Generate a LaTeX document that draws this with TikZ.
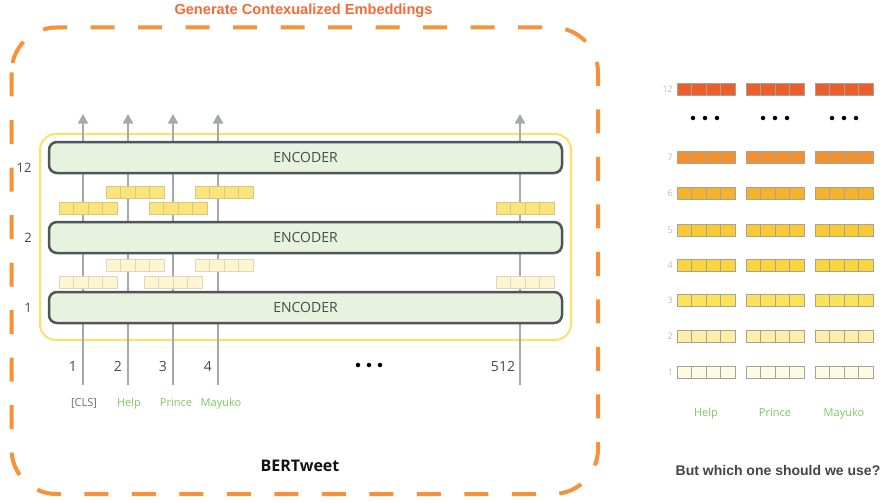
\documentclass[tikz,border=0pt]{standalone}
\usepackage{fontspec}
\setmainfont{Open Sans}
\newfontfamily\arialf{Liberation Sans}
\usetikzlibrary{arrows.meta,calc}
\definecolor{dashor}{HTML}{F7923A}
\definecolor{titleor}{HTML}{F26B38}
\definecolor{ybox}{HTML}{FFE066}
\definecolor{encfill}{HTML}{E7F2DF}
\definecolor{encdraw}{HTML}{50555B}
\definecolor{arrowg}{HTML}{A6A9A9}
\definecolor{txtg}{HTML}{4A4A4A}
\definecolor{tokg}{HTML}{7DC85F}
\definecolor{lblg}{HTML}{BDBDBD}
\definecolor{qg}{HTML}{444444}
\definecolor{upf}{HTML}{FCE37A}
\definecolor{upd}{HTML}{D5C78A}
\definecolor{lof}{HTML}{FEF6D0}
\definecolor{lod}{HTML}{DDD7BE}
\definecolor{c12}{HTML}{EC5F2D}
\definecolor{c7}{HTML}{F1912F}
\definecolor{c6}{HTML}{F4B22E}
\definecolor{c5}{HTML}{F8CB36}
\definecolor{c4}{HTML}{FBD540}
\definecolor{c3}{HTML}{FCE15A}
\definecolor{c2}{HTML}{FDEFA7}
\definecolor{c1}{HTML}{FEFBE5}
\definecolor{celld}{HTML}{A8A39A}
\tikzset{
  outerbox/.style={draw=dashor, line width=4pt, dash pattern=on 24pt off 23.5pt, rounded corners=45pt},
  modelbox/.style={draw=ybox, line width=2pt, rounded corners=16pt},
  encoder/.style={draw=encdraw, line width=2.5pt, fill=encfill, rounded corners=8pt,
    minimum width=513pt, minimum height=31pt, inner sep=0pt, text=txtg,
    font=\fontsize{14}{16}\selectfont},
  flow/.style={draw=arrowg, line width=2pt, -{Triangle[width=10pt,length=9.5pt]}},
  emb/.style={rectangle, minimum width=58pt, minimum height=12pt, inner sep=0pt, outer sep=0pt, line width=0.8pt},
  numlbl/.style={anchor=base, text=txtg, inner sep=0pt, font=\fontsize{14}{16}\selectfont},
  layerlbl/.style={anchor=base, text=txtg, inner sep=0pt, font=\fontsize{13}{15}\selectfont},
  toklbl/.style={anchor=base, text=tokg, inner sep=0pt, font=\fontsize{11}{13}\selectfont},
  rowlbl/.style={anchor=base east, text=lblg, inner sep=0pt, font=\fontsize{9}{10}\selectfont},
  dotn/.style={circle, fill=black, minimum size=4.5pt, inner sep=0pt},
}
\newcommand\embrow[5]{%
  \node[emb, fill=#4, draw=#5, anchor=north west] (#1) at (#2,#3) {};
  \foreach \k in {1,2,3}{\draw[#5, line width=0.8pt] ($(#1.north west)+(\k*14.5,0)$) -- ($(#1.south west)+(\k*14.5,0)$);}%
}
\begin{document}
\begin{tikzpicture}[x=1pt,y=-1pt]
\useasboundingbox (0,0) rectangle (892,503);
% outer dashed frame
\draw[outerbox] (11.5,27.5) rectangle (598,494);
\node[anchor=base, inner sep=0pt, text=titleor, font=\arialf\bfseries\fontsize{14.6}{16}\selectfont] (title) at (303.5,15) {Generate Contexualized Embeddings};
% yellow model frame
\draw[modelbox] (40,134) rectangle (571,340);
% flow lines
\foreach \n/\xx in {1/83,2/128,3/173,4/218,5/520}{
  \coordinate (b\n) at (\xx,385);
  \coordinate (t\n) at (\xx,114);
  \draw[flow] (b\n) -- (t\n);
}
% embeddings between encoder 12 and 2
\embrow{uh}{106}{186}{upf}{upd}
\embrow{um}{195}{186}{upf}{upd}
\embrow{uc}{59}{202}{upf}{upd}
\embrow{up}{149}{202}{upf}{upd}
\embrow{ux}{496}{202}{upf}{upd}
% embeddings between encoder 2 and 1
\embrow{lh}{106}{259.5}{lof}{lod}
\embrow{lm}{195}{259.5}{lof}{lod}
\embrow{lc}{59}{276}{lof}{lod}
\embrow{lp}{144}{276}{lof}{lod}
\embrow{lx}{496}{276}{lof}{lod}
% encoders
\node[encoder] (e12) at (305.5,157.5) {ENCODER};
\node[encoder] (e2) at (305.5,237.5) {ENCODER};
\node[encoder] (e1) at (305.5,307.5) {ENCODER};
% layer labels
\node[layerlbl] (n12) at (24,172.6) {12};
\node[layerlbl] (n2) at (28,242.6) {2};
\node[layerlbl] (n1) at (28,312.6) {1};
% positions
\node[numlbl] (p1) at (73,371) {1};
\node[numlbl] (p2) at (118,371) {2};
\node[numlbl] (p3) at (163,371) {3};
\node[numlbl] (p4) at (208,371) {4};
\node[numlbl] (p512) at (503,371) {512};
\node[dotn] (ld1) at (358,365) {};
\node[dotn] (ld2) at (369,365) {};
\node[dotn] (ld3) at (380,365) {};
% tokens
\node[toklbl, text=txtg!80] (tcls) at (84,406) {[CLS]};
\node[toklbl] (thelp) at (129,406) {Help};
\node[toklbl] (tprince) at (176,406) {Prince};
\node[toklbl] (tmay) at (221,406) {Mayuko};
\node[anchor=base, inner sep=0pt, text=black!93, font=\bfseries\fontsize{16}{18}\selectfont] (bert) at (300,471.5) {BERTweet};
% right panel
\foreach \lab/\yy/\col in {12/83/c12,7/151/c7,6/187/c6,5/224/c5,4/259/c4,3/294/c3,2/330/c2,1/366/c1}{
  \node[rowlbl] (rl\lab) at (673,\yy+9.3) {\lab};
  \embrow{r\lab a}{677}{\yy}{\col}{celld}
  \embrow{r\lab b}{746}{\yy}{\col}{celld}
  \embrow{r\lab c}{815}{\yy}{\col}{celld}
}
\foreach \cx/\nm in {705/a,775/b,844/c}{
  \node[dotn] (rd\nm1) at (\cx-12,118) {};
  \node[dotn] (rd\nm2) at (\cx,118) {};
  \node[dotn] (rd\nm3) at (\cx+12,118) {};
}
\node[toklbl] (rhelp) at (706,416) {Help};
\node[toklbl] (rprince) at (775,416) {Prince};
\node[toklbl] (rmay) at (844,416) {Mayuko};
\node[anchor=base, inner sep=0pt, text=qg, font=\arialf\bfseries\fontsize{14}{16}\selectfont] (q) at (778,475) {But which one should we use?};
\end{tikzpicture}
\end{document}
